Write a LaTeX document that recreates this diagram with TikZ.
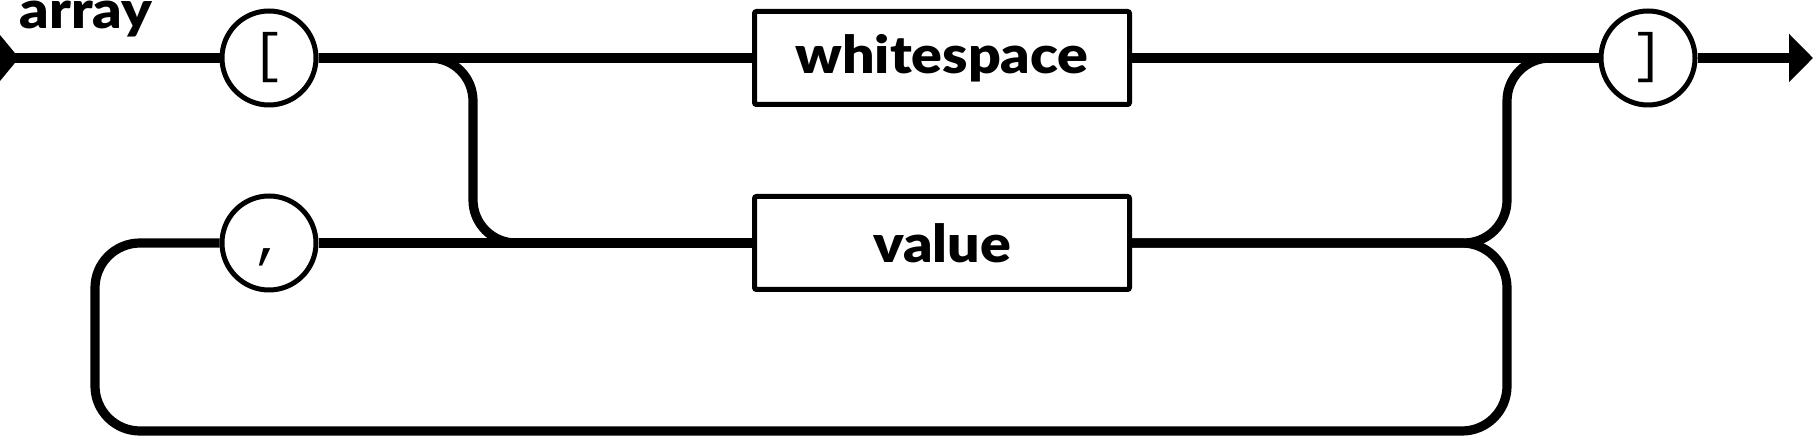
\documentclass[tikz,border=0pt]{standalone}
\usepackage{fontspec}
\setmainfont{Lato}[BoldFont={Lato Black},FakeStretch=1.1]
\newfontfamily\monofont{Liberation Mono}
\usetikzlibrary{positioning,arrows.meta}

\begin{document}
\begin{tikzpicture}[x=0.5pt,y=-0.5pt,line width=4.6pt,
  term/.style={draw,circle,line width=2.5pt,minimum size=47pt,inner sep=0pt,font=\monofont\fontsize{27}{27}\selectfont},
  rule/.style={draw,rectangle,rounded corners=1pt,line width=2.5pt,minimum width=187.5pt,minimum height=46.5pt,inner sep=0pt,font=\bfseries\fontsize{26}{26}\selectfont}]
 \useasboundingbox (0,0) rectangle (1813,437);
 \node [anchor=base west,inner sep=0pt,font=\bfseries\fontsize{26}{26}\selectfont] (name) at (15,29) {array};
 \node [term] (open) at (269,58) {[};
 \node [rule] (ws) at (942,58) {whitespace};
 \node [term] (close) at (1648,58) {]};
 \node [rule, on grid, below=92.5pt of ws] (val) {value};
 \node [term, on grid, below=92.5pt of open] (comma) {\vphantom{[},};
 \coordinate (start) at (0,58);
 \coordinate (stop) at (1813,58);
 \coordinate (fork) at (473,58);
 \coordinate (join) at (1507,58);
 \coordinate (loopr) at (1507,431);
 \coordinate (loopl) at (95,431);
 \fill (start) ++(0,-23) -- ++(19,23) -- ++(-19,23) -- cycle;
 \draw (start) -- (open);
 \draw (open) -- (ws);
 \draw (ws) -- (close);
 \draw [-{Triangle[length=12pt,width=23.5pt]}] (close) -- (stop);
 \draw [rounded corners=21.5pt] (open) -- (fork) |- (val);
 \draw [rounded corners=21.5pt] (val) -| (join) -- (close);
 \draw [rounded corners=22.5pt] (val) -| (loopr) -- (loopl) |- (comma);
 \draw (comma) -- (val);
\end{tikzpicture}
\end{document}
